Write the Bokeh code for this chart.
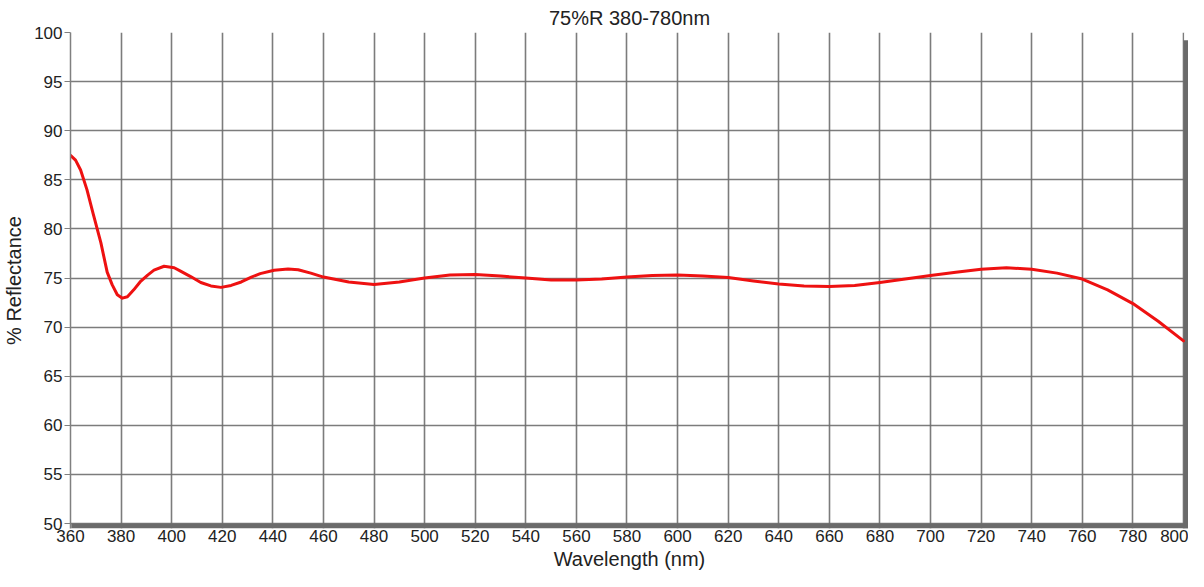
from bokeh.plotting import figure
from bokeh.models import FixedTicker, Range1d, Title
from bokeh.embed import file_html
from bokeh.resources import INLINE

title_text = "75%R 380-780nm"
x_label = "Wavelength (nm)"
y_label = "% Reflectance"

wavelength = [360, 362, 364, 366.5, 369, 372, 374.5, 376.5, 378.5, 380.5, 382.5,
              385, 387.5, 390.5, 393, 397, 401, 403.5, 407.5, 411.5, 415.5,
              419.5, 423.5, 427.5, 431.5, 435, 440.5, 446, 450, 455, 460, 470,
              480, 490, 500, 510, 520, 530, 540, 550, 560, 570, 580, 590, 600,
              610, 620, 630, 640, 650, 660, 670, 680, 690, 700, 710, 720, 730,
              740, 750, 760, 770, 780, 790, 800]
reflectance = [87.5, 87.0, 86.0, 84.0, 81.5, 78.6, 75.6, 74.3, 73.3, 72.95, 73.1,
               73.8, 74.6, 75.3, 75.8, 76.2, 76.05, 75.7, 75.15, 74.55, 74.2,
               74.05, 74.25, 74.6, 75.1, 75.45, 75.8, 75.93, 75.85, 75.5, 75.1,
               74.6, 74.35, 74.6, 75.0, 75.3, 75.35, 75.2, 75.0, 74.8, 74.8,
               74.9, 75.1, 75.25, 75.3, 75.2, 75.05, 74.7, 74.4, 74.2, 74.15,
               74.25, 74.55, 74.9, 75.25, 75.6, 75.9, 76.05, 75.9, 75.5, 74.9,
               73.8, 72.4, 70.6, 68.6]

x_ticks = list(range(360, 801, 20))
y_ticks = list(range(50, 101, 5))

FONT = "Liberation Sans"
TXT = "#222222"

x_lo, x_hi = x_ticks[0], x_ticks[-1]
y_lo, y_hi = y_ticks[0], y_ticks[-1]
x_pad = 1.98
y_pad = 0.5

p = figure(width=1188, height=571, output_backend="svg", toolbar_location=None,
           x_range=Range1d(x_lo, x_hi + x_pad), y_range=Range1d(y_lo - y_pad, y_hi),
           min_border_left=62, min_border_right=0, min_border_top=0,
           min_border_bottom=0)

p.title.text = title_text
p.title.align = "center"
p.title.text_font = FONT
p.title.text_font_size = "20px"
p.title.text_font_style = "normal"
p.title.text_color = TXT
p.title.offset = 0
p.title.standoff = 8

p.outline_line_color = None
p.background_fill_color = "white"
p.border_fill_color = "white"

# grid
p.xgrid.ticker = FixedTicker(ticks=x_ticks)
p.ygrid.ticker = FixedTicker(ticks=y_ticks)
for g in (p.xgrid, p.ygrid):
    g.grid_line_color = "#6e6e6e"
    g.grid_line_width = 1.6
    g.grid_line_alpha = 0.9

# axes
p.xaxis.ticker = FixedTicker(ticks=x_ticks)
p.yaxis.ticker = FixedTicker(ticks=y_ticks)
p.xaxis.axis_line_color = None
p.xaxis.major_tick_line_color = None
p.xaxis.minor_tick_line_color = None
p.xaxis.major_tick_out = 0
p.xaxis.major_tick_in = 0
p.xaxis.minor_tick_out = 0
p.xaxis.major_label_standoff = 1
p.yaxis.axis_line_color = "#808080"
p.yaxis.axis_line_width = 1.5
p.yaxis.major_tick_line_color = "#808080"
p.yaxis.major_tick_out = 6
p.yaxis.major_tick_in = 0
p.yaxis.minor_tick_line_color = None
p.yaxis.major_label_standoff = 2
for ax in (p.xaxis, p.yaxis):
    ax.major_label_text_font = FONT
    ax.major_label_text_font_size = "17px"
    ax.major_label_text_color = TXT
    ax.axis_label_text_font = FONT
    ax.axis_label_text_font_size = "20px"
    ax.axis_label_text_font_style = "normal"
    ax.axis_label_text_color = TXT
p.yaxis.axis_label = y_label
p.yaxis.axis_label_standoff = 6

xt = Title(text=x_label, align="center", text_font=FONT, text_font_size="20px",
           text_font_style="normal", text_color=TXT, standoff=3, offset=0)
p.add_layout(xt, "below")

# cover grid overhang beyond the plot box and draw the drop shadow
p.quad(left=[x_hi + 0.3], right=[x_hi + x_pad], bottom=[y_hi - 0.9], top=[y_hi],
       fill_color="white", line_color=None)
p.quad(left=[x_lo + 0.3], right=[x_hi + x_pad], bottom=[y_lo - y_pad], top=[y_lo],
       fill_color="#6a6a6a", line_color=None)
p.quad(left=[x_hi], right=[x_hi + x_pad], bottom=[y_lo - y_pad], top=[y_hi - 0.8],
       fill_color="#6a6a6a", line_color=None)

p.line(wavelength, reflectance, line_color="#ee1111", line_width=3,
       line_join="round", line_cap="round")

open("out.html", "w").write(file_html(p, INLINE))
